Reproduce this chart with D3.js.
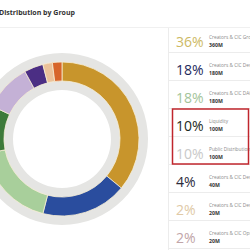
<!DOCTYPE html>
<html>
<head>
<meta charset="utf-8">
<script src="https://cdn.jsdelivr.net/npm/d3@7/dist/d3.min.js"></script>
<style>
    html, body { margin: 0; padding: 0; background: #fff; overflow: hidden; }
    svg { display: block; }
</style>
</head>
<body>
<svg id="chart" width="250" height="250"></svg>
<script>
const GROUPS = [
    'Creators & CIC Growth',
    'Creators & CIC Development',
    'Creators & CIC DAO',
    'Liquidity',
    'Public Distribution',
    'Creators & CIC Dev Fund',
    'Creators & CIC Dev',
    'Creators & CIC Ops'
];
const PERCENTS = [36, 18, 18, 10, 10, 4, 2, 2];
const AMOUNTS = ['360M', '180M', '180M', '100M', '100M', '40M', '20M', '20M'];
const ARC_COLORS = ['#c8952c', '#2a4d9e', '#a8cf9b', '#3d7a3a', '#c4b1d6', '#4b2e84', '#ebc29a', '#d7652a'];
const TEXT_COLORS = ['#cdb964', '#1e2a5c', '#a3c49a', '#1c2a22', '#c9c9c9', '#2b2b3b', '#e0c9a6', '#c1a5a8'];
const HIGHLIGHT = [3, 4];

const svg = d3.select('#chart');

// header
svg.append('text')
    .attr('x', -1)
    .attr('y', 15)
    .attr('font-family', 'Open Sans, sans-serif')
    .attr('font-size', 7)
    .attr('font-weight', 700)
    .attr('fill', '#333')
    .text('Distribution by Group');
svg.append('line')
    .attr('x1', 0).attr('x2', 250)
    .attr('y1', 27.5).attr('y2', 27.5)
    .attr('stroke', '#f0f0f0');

// donut
const cx = 62, cy = 139;
const g = svg.append('g').attr('transform', `translate(${cx},${cy})`);

g.append('path')
    .attr('d', d3.arc().innerRadius(49).outerRadius(86).startAngle(0).endAngle(2 * Math.PI)())
    .attr('fill', '#e5e5e3');

const pie = d3.pie().sort(null).value(d => d).startAngle(0).endAngle(2 * Math.PI);
const arc = d3.arc().innerRadius(58).outerRadius(77);

g.selectAll('path.slice')
    .data(pie(PERCENTS))
    .join('path')
    .attr('class', 'slice')
    .attr('d', arc)
    .attr('fill', (d, i) => ARC_COLORS[i])
    .attr('stroke', '#f6eed4')
    .attr('stroke-width', 0.8);

// legend
const rowY = d3.scaleLinear().domain([0, 1]).range([47, 75]);
const legendX = 168;

svg.append('line')
    .attr('x1', legendX + 0.5).attr('x2', legendX + 0.5)
    .attr('y1', 28).attr('y2', 250)
    .attr('stroke', '#ececec');

const rows = svg.selectAll('g.row')
    .data(PERCENTS)
    .join('g')
    .attr('class', 'row')
    .attr('transform', (d, i) => `translate(0,${rowY(i)})`);

rows.append('line')
    .attr('x1', legendX).attr('x2', 250)
    .attr('y1', 5.5).attr('y2', 5.5)
    .attr('stroke', '#ececec');

rows.append('text')
    .attr('x', 176)
    .attr('y', 0)
    .attr('font-family', 'Open Sans, sans-serif')
    .attr('font-size', 14)
    .attr('font-weight', 500)
    .attr('fill', (d, i) => TEXT_COLORS[i])
    .text(d => d + '%');

rows.append('text')
    .attr('x', 209)
    .attr('y', -8)
    .attr('font-family', 'Open Sans, sans-serif')
    .attr('font-size', 4.8)
    .attr('fill', '#8a8a8a')
    .text((d, i) => GROUPS[i]);

rows.append('text')
    .attr('x', 209)
    .attr('y', -0.5)
    .attr('font-family', 'Open Sans, sans-serif')
    .attr('font-size', 5.2)
    .attr('font-weight', 700)
    .attr('fill', '#333')
    .text((d, i) => AMOUNTS[i]);

// highlight box
svg.append('rect')
    .attr('x', 172.5)
    .attr('y', rowY(HIGHLIGHT[0]) - 22)
    .attr('width', 76)
    .attr('height', rowY(HIGHLIGHT[1]) - rowY(HIGHLIGHT[0]) + 27)
    .attr('fill', 'none')
    .attr('stroke', '#c0262d')
    .attr('stroke-width', 1.5);
</script>
</body>
</html>
